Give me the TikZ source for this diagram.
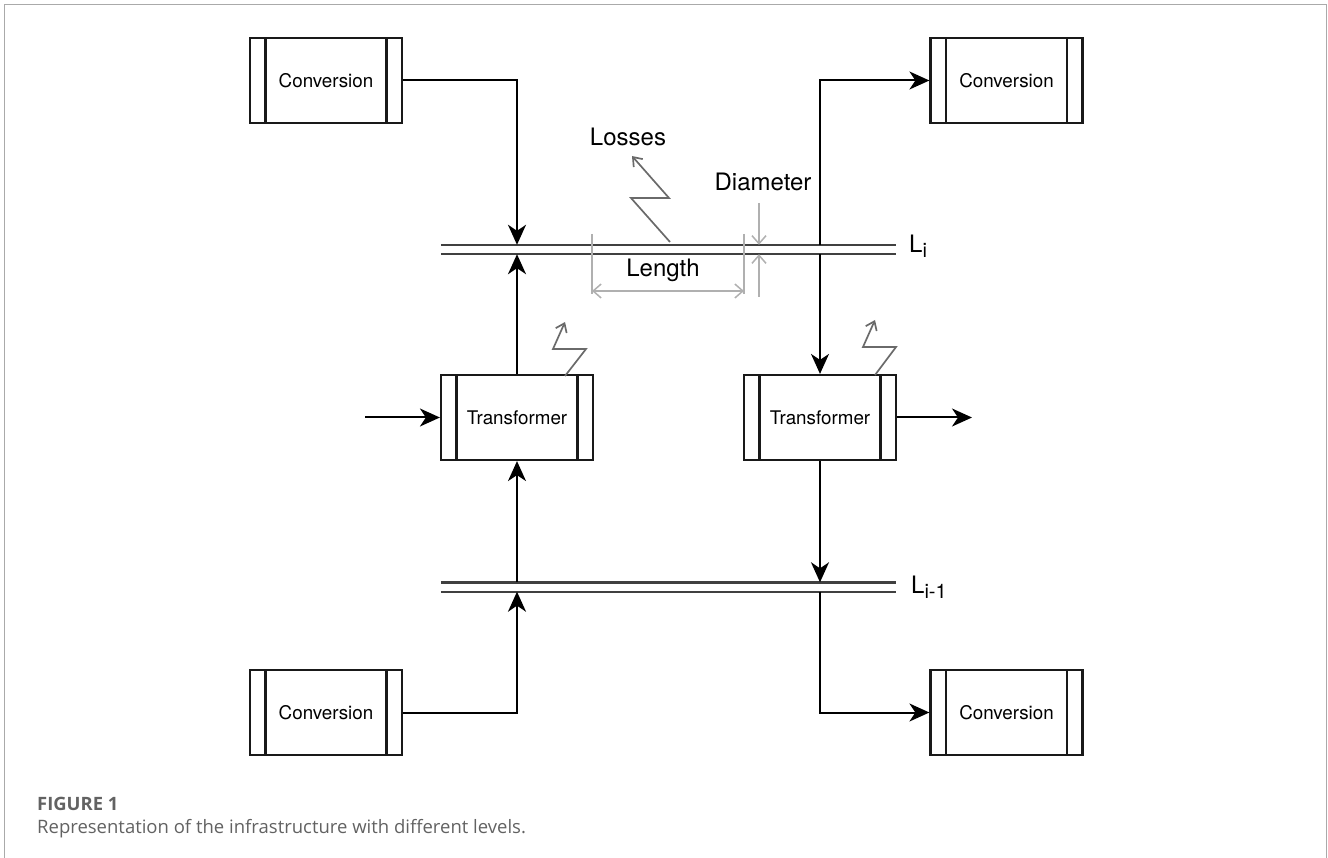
\documentclass[tikz,border=0pt]{standalone}
\usepackage{fontspec}
\setmainfont{TeX Gyre Heros}
\newfontfamily\capfont{Open Sans}
\usetikzlibrary{arrows.meta}
\definecolor{framegray}{HTML}{AAAAAA}
\definecolor{dimgray}{HTML}{B0B0B0}
\definecolor{lossgray}{HTML}{6A6A6A}
\definecolor{capgray}{HTML}{626262}
\tikzset{
  procbox/.style={draw=black!90, line width=2.2pt, minimum width=152pt, minimum height=85pt, inner sep=0pt,
    font=\fontsize{18.8}{20}\selectfont,
    path picture={
      \draw[line width=2.2pt, black!90] ([xshift=15.5pt]path picture bounding box.north west) -- ([xshift=15.5pt]path picture bounding box.south west);
      \draw[line width=2.2pt, black!90] ([xshift=-15.5pt]path picture bounding box.north east) -- ([xshift=-15.5pt]path picture bounding box.south east);
    }},
  pipe/.style={minimum width=455pt, minimum height=9pt, inner sep=0pt},
  pipeline/.style={line width=2.4pt, draw=black!75},
  arr/.style={line width=2pt, -{Stealth[length=20pt,width=18pt,inset=6pt]}},
  dimline/.style={line width=1.5pt, draw=dimgray},
  dimarr/.style={line width=1.5pt, draw=dimgray, -{Straight Barb[length=8pt,width=14pt]}},
  dimarrs/.style={line width=1.5pt, draw=dimgray, {Straight Barb[length=8pt,width=14pt]}-{Straight Barb[length=8pt,width=14pt]}},
  lossarr/.style={line width=1.7pt, draw=lossgray, -{Straight Barb[length=8pt,width=12pt]}},
  biglabel/.style={font=\fontsize{24}{26}\selectfont, inner sep=0pt},
}
\begin{document}
\begin{tikzpicture}[x=1pt,y=-1pt]
\useasboundingbox (0,0) rectangle (1328,858);
\draw[framegray, line width=1.8pt] (4.5,860) -- (4.5,4.5) -- (1326.5,4.5) -- (1326.5,860);

% boxes
\node[procbox] (convTL) at (326,80.5) {Conversion};
\node[procbox] (convTR) at (1006.5,80.5) {Conversion};
\node[procbox] (convBL) at (326,712.5) {Conversion};
\node[procbox] (convBR) at (1006.5,712.5) {Conversion};
\node[procbox] (trL) at (517,417.5) {Transformer};
\node[procbox] (trR) at (820,417.5) {Transformer};

% pipes
\node[pipe] (Li) at (668.5,249.5) {};
\draw[pipeline] (Li.north west) -- (Li.north east);
\draw[pipeline] (Li.south west) -- (Li.south east);
\node[pipe] (Li1) at (668.5,587) {};
\draw[pipeline] (Li1.north west) -- (Li1.north east);
\draw[pipeline] (Li1.south west) -- (Li1.south east);
\node[biglabel, anchor=base west] (LiLab) at (909,253) {L\raisebox{-5pt}{\fontsize{20}{20}\selectfont i}};
\node[biglabel, anchor=base west] (Li1Lab) at (911,593) {L\raisebox{-5pt}{\fontsize{20}{20}\selectfont i-1}};

% connectors
\coordinate (inL) at (365,417.5);
\coordinate (outR) at (972,417.5);
\draw[arr] (convTL.east) -- (convTL.east -| trL.north) -- (Li.north -| trL.north);
\draw[arr] (trL.north) -- (Li.south -| trL.north);
\draw[arr] (Li1.north -| trL.south) -- (trL.south);
\draw[arr] (convBL.east) -- (convBL.east -| trL.south) -- (Li1.south -| trL.south);
\draw[arr] (inL) -- (trL.west);
\draw[arr] (Li.north -| trR.north) -- (convTR.west -| trR.north) -- (convTR.west);
\draw[arr] (Li.south -| trR.north) -- (trR.north);
\draw[arr] (trR.east) -- (outR);
\draw[arr] (trR.south) -- (Li1.north -| trR.south);
\draw[arr] (Li1.south -| trR.south) -- (convBR.west -| trR.south) -- (convBR.west);

% losses
\coordinate (lossA) at (670,242);
\coordinate (lossB) at (631,198);
\coordinate (lossC) at (669,198);
\coordinate (lossD) at (632,156);
\draw[lossarr] (lossA) -- (lossB) -- (lossC) -- (lossD);
\node[biglabel] (losses) at (628,137) {Losses};

\coordinate (tlA) at (565,376);
\coordinate (tlB) at (586,349);
\coordinate (tlC) at (553,349);
\coordinate (tlD) at (565,322);
\draw[lossarr] (tlA) -- (tlB) -- (tlC) -- (tlD);
\coordinate (trA) at (875,375);
\coordinate (trB) at (896,347);
\coordinate (trC) at (863,347);
\coordinate (trD) at (875,320);
\draw[lossarr] (trA) -- (trB) -- (trC) -- (trD);

% length
\coordinate (lenL1) at (592,234);
\coordinate (lenL2) at (592,294);
\coordinate (lenR1) at (744,234);
\coordinate (lenR2) at (744,294);
\draw[dimline] (lenL1) -- (lenL2);
\draw[dimline] (lenR1) -- (lenR2);
\coordinate (lenA) at (592,291);
\coordinate (lenB) at (744,291);
\draw[dimarrs] (lenA) -- (lenB);
\node[biglabel] (length) at (663,270) {Length};

% diameter
\coordinate (diaT) at (759,203);
\coordinate (diaB) at (759,297);
\draw[dimarr] (diaT) -- (Li.north -| diaT);
\draw[dimarr] (diaB) -- (Li.south -| diaB);
\node[biglabel] (diameter) at (763,182) {Diameter};

% caption
\node[anchor=base west, inner sep=0pt, text=capgray, font=\capfont\bfseries\fontsize{18.4}{20}\selectfont] (figlab) at (37,810) {FIGURE 1};
\node[anchor=base west, inner sep=0pt, text=capgray, font=\capfont\fontsize{18.5}{20}\selectfont] (caption) at (37,833) {Representation of the infrastructure with different levels.};
\end{tikzpicture}
\end{document}
